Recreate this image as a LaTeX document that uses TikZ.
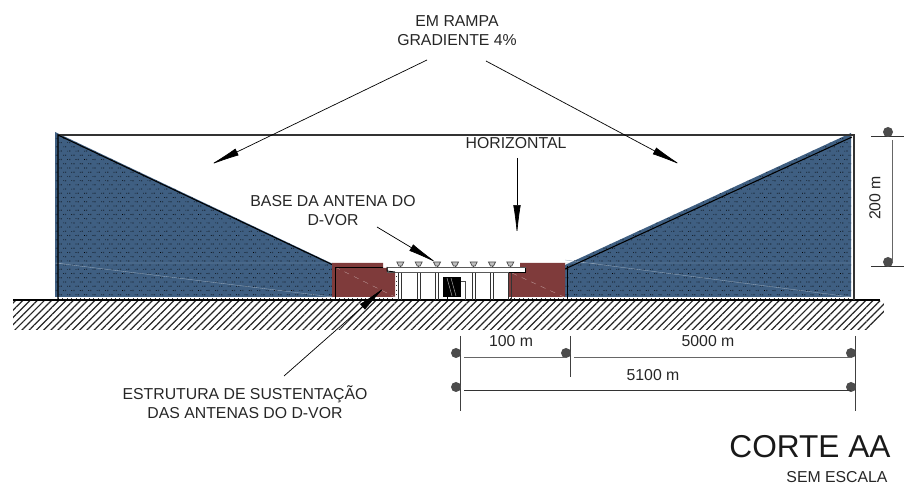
\documentclass[tikz,border=0pt]{standalone}
\usepackage{fontspec}
\setmainfont{Liberation Sans}
\usetikzlibrary{arrows.meta, patterns.meta}
\definecolor{rampblue}{HTML}{3F5F82}
\definecolor{basered}{HTML}{7F3B3B}
\tikzstyle{label}=[inner sep=0pt, font=\fontsize{9}{10.8}\selectfont, text=black!85]
\tikzstyle{leader}=[line width=0.4pt, -{Latex[length=6mm,width=1.5mm]}]
\tikzstyle{dimdot}=[circle, inner sep=0pt, minimum size=2mm, fill=black!70]
\tikzstyle{dimline}=[line width=0.5pt, black!60]
\tikzstyle{ramp}=[fill=rampblue, postaction={pattern={Dots[angle=45,distance=3.4pt,radius=0.5pt,xshift=1.2pt]}, pattern color=rampblue!55!black}, postaction={pattern={Dots[angle=45,distance=3.4pt,radius=0.26pt]}, pattern color=black}]
\tikzstyle{faint}=[line width=0.2pt, white!45!rampblue]
\tikzstyle{grit}=[line width=0.5pt, dotted, black!80]

\begin{document}
\begin{tikzpicture}[x=0.02cm, y=-0.02cm]
	\useasboundingbox (0,0) rectangle (904,489);
	% ground
	\fill[pattern={Lines[angle=45,distance=2.9pt,line width=0.7pt]}, pattern color=black!85]
		(13,301) -- (884,301) -- (884,312) -- (870,330) -- (13,330) -- cycle;
	\coordinate (g1) at (13,300);
	\coordinate (g2) at (880,300);
	\draw[line width=0.6pt] (g1) -- (g2);
	% ramps
	\path[ramp] (55,132) -- (333,264) -- (333,297) -- (55,297) -- cycle;
	\path[ramp] (565,265) -- (851,133) -- (851,297) -- (565,297) -- cycle;
	\draw[faint] (55,263) -- (333,263) (55,263) -- (333,297);
	\draw[faint] (565,263) -- (851,263) (565,260) -- (851,297);
	\draw[grit] (58,298.5) -- (395,298.5) (510,298.5) -- (853,298.5) (853,137) -- (853,298);
	\draw[grit] (396.5,272) -- (396.5,298);
	\coordinate (tl) at (58,135);
	\coordinate (tr) at (854,135);
	\coordinate (il) at (333,265);
	\coordinate (ir) at (565,269);
	\draw[line width=0.6pt, black!80] (tl) -- (tr) -- (854,300);
	\draw[line width=0.6pt] (58,300) -- (tl) -- (il);
	\draw[line width=0.6pt] (ir) -- (852,137);
	% blocks under the base
	\fill[basered] (332,263) -- (383,263) -- (383,268) -- (395,268) -- (395,297) -- (332,297) -- cycle;
	\fill[basered] (509,269) -- (520,269) -- (520,263) -- (565,263) -- (565,297) -- (509,297) -- cycle;
	\draw[line width=0.2pt, white!50!basered, dashed] (335,267) -- (395,297) (512,273) -- (564,297);
	\draw[line width=0.5pt] (335,300) -- (335,267) -- (383,267);
	\draw[line width=0.5pt] (567,300) -- (567,266);
	% slab, columns and antennas
	\foreach \x in {400.3,418.7,437,473.7,492,510.3} {
		\draw[line width=0.45pt, black!80] (\x-1.5,272) -- (\x-1.5,300) (\x+1.5,272) -- (\x+1.5,300);
	}
	\draw[line width=0.4pt, draw=black!65, fill=white] (387,267) rectangle (525,272);
	\draw[line width=0.5pt] (387,267) -- (387,271) -- (395,272);
	\draw[line width=0.5pt] (509,272) -- (525,272) -- (525,268);
	\foreach \x in {400.3,418.7,437,455,473.7,492,510.3} {
		\draw[line width=0.4pt, draw=black!70, fill=black!25] (\x-3.5,262) -- (\x+3.5,262) -- (\x+1.5,266) -- (\x-1.5,266) -- cycle;
		\draw[line width=0.4pt, black!70] (\x,266) -- (\x,267);
	}
	% equipment
	\fill (443,277) rectangle (461,297);
	\draw[white!70!black, line width=0.25pt] (447,278) -- (452,296) (451,278) -- (456,296);
	\draw[line width=0.4pt, black!70] (461,281) -- (465,281) -- (465,300);
	\draw[line width=0.5pt] (447,297) -- (447,300);
	% leaders
	\node[label, align=center] (rampa) at (457,31) {EM RAMPA\\GRADIENTE 4\%};
	\coordinate (rl) at (427,60);
	\coordinate (rle) at (210,165);
	\coordinate (rr) at (486,61);
	\coordinate (rre) at (681,165);
	\draw[leader] (rl) -- (rle);
	\draw[leader] (rr) -- (rre);
	\node[label] (horiz) at (516,143) {HORIZONTAL};
	\coordinate (hs) at (517,158);
	\coordinate (he) at (517,235);
	\draw[leader] (hs) -- (he);
	\node[label, align=center] (base) at (333,211) {BASE DA ANTENA DO\\D-VOR};
	\coordinate (bs) at (377,227);
	\coordinate (be) at (437,263);
	\draw[leader] (bs) -- (be);
	\node[label, align=center] (estr) at (245,402) {ESTRUTURA DE SUSTENTAÇÃO\\DAS ANTENAS DO D-VOR};
	\coordinate (es) at (284,376);
	\coordinate (ee) at (385,287);
	\draw[leader] (es) -- (ee);
	% dimensions
	\coordinate (v1t) at (460,336);
	\coordinate (v1b) at (460,411);
	\coordinate (v2t) at (570,336);
	\coordinate (v2b) at (570,377);
	\coordinate (v3t) at (855,336);
	\coordinate (v3b) at (855,411);
	\draw[line width=0.5pt, black!75] (v1t) -- (v1b) (v2t) -- (v2b) (v3t) -- (v3b);
	\node[dimdot] (d1) at (456,353) {};
	\node[dimdot] (d2) at (566,353) {};
	\node[dimdot] (d3) at (851,353) {};
	\node[dimdot] (d4) at (456,387) {};
	\node[dimdot] (d5) at (851,387) {};
	\draw[dimline] (464,357) -- (565,357) (574,357) -- (851,357);
	\draw[line width=0.5pt, black!80] (464,390) -- (851,390);
	\node[label] (w1) at (511,341) {100 m};
	\node[label] (w2) at (708,341) {5000 m};
	\node[label] (w3) at (653,375) {5100 m};
	\coordinate (ht) at (871,136);
	\coordinate (hte) at (904,136);
	\coordinate (hb) at (871,266);
	\coordinate (hbe) at (904,266);
	\draw[line width=0.5pt, black!80] (ht) -- (hte) (hb) -- (hbe);
	\node[dimdot] (d6) at (888,132) {};
	\node[dimdot] (d7) at (888,262) {};
	\draw[dimline] (892,140) -- (892,262);
	\node[label, rotate=90] (w4) at (875,198) {200 m};
	% title
	\node[inner sep=0pt, font=\fontsize{18}{20}\selectfont, text=black!90] (corte) at (810,447) {CORTE AA};
	\node[label] (escala) at (837,477) {SEM ESCALA};
\end{tikzpicture}
\end{document}
